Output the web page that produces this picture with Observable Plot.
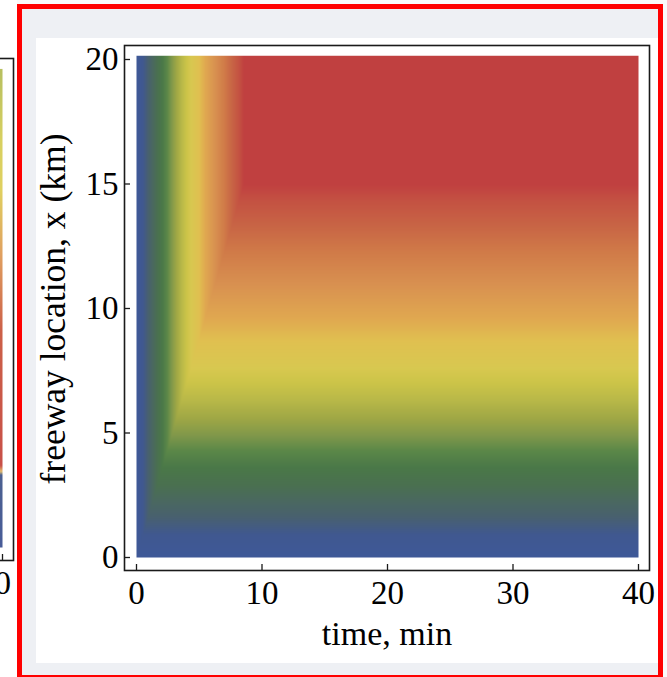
<!DOCTYPE html>
<html>
<head>
<meta charset="utf-8">
<script src="https://cdn.jsdelivr.net/npm/d3@7"></script>
<script src="https://cdn.jsdelivr.net/npm/@observablehq/plot@0.6"></script>
<style>
  html, body { margin: 0; padding: 0; width: 667px; height: 677px; overflow: hidden; background: #fafafa; position: relative; }
  #redbox { position: absolute; left: 17px; top: 4px; width: 636px; height: 666px; border: 5px solid #ff0000; background: #eef0f4; }
  #panel { position: absolute; left: 36px; top: 38px; width: 622px; height: 625px; background: #ffffff; }
  #leftclip { position: absolute; left: 0; top: 0; width: 17px; height: 677px; overflow: hidden; background: #ffffff; }
  #leftplot { position: absolute; left: -636px; top: 0; width: 667px; height: 677px; }
  #main { position: absolute; left: 0; top: 0; width: 667px; height: 677px; }
  svg { overflow: visible; max-width: none !important; }
</style>
</head>
<body>
<div id="leftclip"><div id="leftplot"></div></div>
<div id="redbox"></div>
<div id="panel"></div>
<div id="main"></div>
<script>
// ---- data ----
// time axis (min) and location axis (km)
const timeTicks = [0, 10, 20, 30, 40];
const locTicks = [0, 5, 10, 15, 20];
const xLabel = "time, min";
const yLabel = "freeway location, x (km)";

// fan boundary: straight line from the origin to the corner of the red zone
const frontTime = [0, 8.57];   // min
const frontLoc = [0, 15];      // km

// steady colour profile along the freeway (read at t = 30 min)
const profileLoc = [0, 0.9, 1.6, 2.25, 2.9, 3.6, 4.3, 4.9, 5.6, 6.3, 7.0, 7.6, 8.7, 9.6, 11, 12.3, 13.3, 14.3, 15, 20];
const profileColor = ["#3e5898", "#405890", "#486070", "#4a6860", "#4a7050", "#4a7848", "#5c8848", "#80984a",
  "#a0a845", "#b8b848", "#ccc448", "#d8c850", "#e0c050", "#e0a850", "#d89050", "#d07a48", "#c86545",
  "#c45242", "#c04040", "#c04040"];

// neighbouring (cropped) chart: colour column at its right edge, and its visible tick
const leftLoc = [0, 3.05, 3.2, 3.45, 9.1, 12.3, 15, 17.1, 20];
const leftColor = ["#485c98", "#4c6090", "#e6c070", "#c85048", "#cc6048", "#e0a060", "#e0d060", "#d8d060", "#b8c060"];
const leftTimeTicks = [40];

// ---- chart ----
const speed = (frontLoc[1] - frontLoc[0]) / (frontTime[1] - frontTime[0]);
const fieldValue = (t, x) => Math.min(x, frontLoc[0] + speed * (t - frontTime[0]));

const font = "'Liberation Serif', 'Times New Roman', serif";
const W = 667, H = 677;

function makePlot({marginTop, marginBottom, colorDomain, colorRange, fill, xTickLabels, xTickDx, yTickLabels, labels}) {
  const frameW = W - 124 - 18;
  const frameH = H - marginTop - marginBottom;
  const marks = [
    Plot.raster({x1: 0, x2: 40, y1: 0, y2: 20.15, fill, pixelSize: 1}),
    Plot.frame({stroke: "#1a1a1a", strokeWidth: 1.6}),
    Plot.tickX(timeTicks, {x: d => d, insetTop: frameH - 6, stroke: "#1a1a1a", strokeWidth: 1.3}),
    Plot.tickY(locTicks, {y: d => d, insetRight: frameW - 6, stroke: "#1a1a1a", strokeWidth: 1.3}),
    Plot.axisX(xTickLabels, {tickSize: 0, tickPadding: 10, fontSize: 33, label: null, fill: "#000", dx: xTickDx})
  ];
  if (yTickLabels) marks.push(Plot.axisY(yTickLabels, {tickSize: 0, tickPadding: 6, fontSize: 33, label: null, fill: "#000"}));
  else marks.push(Plot.axisY({ticks: [], label: null, tickSize: 0}));
  if (labels) {
    marks.push(
      Plot.text([xLabel], {frameAnchor: "bottom", lineAnchor: "bottom", dy: 74, fontSize: 34, fill: "#000"}),
      Plot.text([yLabel], {frameAnchor: "left", textAnchor: "middle", lineAnchor: "bottom", rotate: -90, dx: -60, dy: 1, fontSize: 35.5, fill: "#000"})
    );
  }
  return Plot.plot({
    width: W, height: H,
    marginLeft: 124, marginRight: 18, marginTop, marginBottom,
    style: {background: "transparent", fontFamily: font, fontSize: "33px", color: "#000", overflow: "visible"},
    x: {domain: [0, 40], insetLeft: 12, insetRight: 11},
    y: {domain: [0, 20], insetTop: 14, insetBottom: 13},
    color: {type: "linear", domain: colorDomain, range: colorRange, interpolate: "rgb", clamp: true},
    marks
  });
}

document.getElementById("main").append(makePlot({
  marginTop: 45, marginBottom: 107,
  colorDomain: profileLoc, colorRange: profileColor,
  fill: (t, x) => fieldValue(t, x),
  xTickLabels: timeTicks, xTickDx: 0, yTickLabels: locTicks, labels: true
}));

document.getElementById("leftplot").append(makePlot({
  marginTop: 58, marginBottom: 117,
  colorDomain: leftLoc, colorRange: leftColor,
  fill: (t, x) => x,
  xTickLabels: leftTimeTicks, xTickDx: -8, yTickLabels: null, labels: false
}));
</script>
</body>
</html>
